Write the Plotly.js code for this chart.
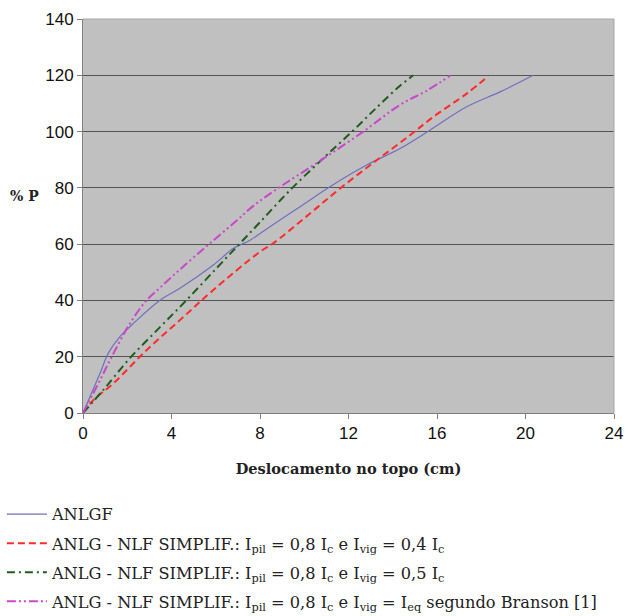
<!DOCTYPE html>
<html><head><meta charset="utf-8">
<script src="https://cdn.plot.ly/plotly-3.0.1.min.js"></script>
<style>body{margin:0;background:#fff}#chart{width:627px;height:616px}</style>
</head><body><div id="chart"></div>
<script>
// ANLGF (solid blue)
const anlgfX = [0, 0.77, 1.14, 1.67, 2.27, 3.48, 4.38, 5.89, 6.8, 7.55, 8.45, 9.81, 11.16, 12.82, 14.33, 15.68, 17.34, 18.85, 20.35];
const anlgfY = [0, 14.1, 21.2, 27.1, 31.8, 40.1, 44.3, 52.6, 58.5, 61.4, 66.2, 73.3, 80.4, 88.1, 94, 100.5, 108.8, 114.1, 120];
// Ipil=0.8Ic, Ivig=0.4Ic (red dashed)
const s04X = [0, 0.47, 1.37, 2.88, 4.38, 5.89, 8.0, 8.6, 10.26, 11.62, 13.27, 14.78, 15.83, 17.34, 18.32];
const s04Y = [0, 4.6, 10.5, 22.4, 33, 43.7, 57.3, 60.3, 70.9, 79.8, 89.8, 98.7, 105.2, 113.5, 119.7];
// Ipil=0.8Ic, Ivig=0.5Ic (green dash-dot)
const s05X = [0, 0.92, 2.12, 3.48, 4.69, 6.04, 7.1, 8.0, 9.36, 10.86, 12.07, 13.27, 14.33, 14.93];
const s05Y = [0, 8.2, 19.5, 30.5, 40.2, 51.5, 60.3, 67.8, 79.2, 90.5, 99.3, 108.5, 116.3, 120];
// Ipil=0.8Ic, Ivig=Ieq Branson (magenta dash-dot-dot)
const brX = [0, 0.77, 1.3, 2.12, 2.88, 3.48, 4.38, 5.59, 6.8, 7.7, 8.9, 10.56, 12.67, 14.33, 15.53, 16.62];
const brY = [0, 11.7, 20, 31.8, 40.1, 44.5, 51, 59.3, 67.4, 73.6, 80.3, 88.8, 100, 109.5, 114.5, 120];

const names = [
  'ANLGF',
  'ANLG - NLF SIMPLIF.: I<sub>pil</sub> = 0,8 I<sub>c</sub> e I<sub>vig</sub> = 0,4 I<sub>c</sub>',
  'ANLG - NLF SIMPLIF.: I<sub>pil</sub> = 0,8 I<sub>c</sub> e I<sub>vig</sub> = 0,5 I<sub>c</sub>',
  'ANLG - NLF SIMPLIF.: I<sub>pil</sub> = 0,8 I<sub>c</sub> e I<sub>vig</sub> = I<sub>eq</sub> segundo Branson [1]'
];
const xTicks = [0, 4, 8, 12, 16, 20, 24];
const yTicks = [0, 20, 40, 60, 80, 100, 120, 140];

const serif = 'DejaVu Serif';
const traces = [
  {x: anlgfX, y: anlgfY, name: names[0], legendgroup: 'a', mode: 'lines', line: {color: '#6f6fbf', width: 1.2, shape: 'spline'}},
  {x: s04X, y: s04Y, name: names[1], legendgroup: 'b', mode: 'lines', line: {color: '#ff2a2a', width: 2, dash: '7px,4px', shape: 'spline'}},
  {x: s05X, y: s05Y, name: names[2], legendgroup: 'c', mode: 'lines', line: {color: '#1f5c1f', width: 2, dash: '8px,4px,2px,4px', shape: 'spline'}},
  {x: brX, y: brY, name: names[3], legendgroup: 'd', mode: 'lines', line: {color: '#c848c8', width: 2, dash: '9px,3px,2px,3px,2px,3px', shape: 'spline'}}
];

const layout = {
  width: 627, height: 616,
  margin: {l: 83, r: 13, t: 19, b: 203, autoexpand: false},
  paper_bgcolor: '#ffffff',
  plot_bgcolor: '#c0c0c0',
  showlegend: true,
  legend: {
    xref: 'container', yref: 'container', x: 0.003, y: 0.193, xanchor: 'left', yanchor: 'top',
    font: {family: serif, size: 16.2, color: '#222'},
    bgcolor: 'rgba(0,0,0,0)', itemwidth: 40, tracegroupgap: 5
  },
  xaxis: {
    range: [0, 24], tickvals: xTicks, ticktext: xTicks.map(String),
    showgrid: false, zeroline: false,
    showline: true, linecolor: '#808080', linewidth: 1,
    ticks: 'outside', ticklen: 5, tickcolor: '#808080',
    tickfont: {family: 'Liberation Sans, Arial, sans-serif', size: 17, color: '#111'},
    title: {text: '<b>Deslocamento no topo (cm)</b>', font: {family: serif, size: 14.6, color: '#222'}, standoff: 21}
  },
  yaxis: {
    range: [0, 140], tickvals: yTicks, ticktext: yTicks.map(String),
    showgrid: true, gridcolor: '#555555', gridwidth: 1, zeroline: false,
    showline: true, linecolor: '#808080', linewidth: 1,
    ticks: 'outside', ticklen: 5, tickcolor: '#808080',
    tickfont: {family: 'Liberation Sans, Arial, sans-serif', size: 17, color: '#111'}
  },
  shapes: [
    {type: 'line', xref: 'paper', yref: 'paper', x0: 0, x1: 1, y0: 1, y1: 1, line: {color: '#a8a8a8', width: 1}},
    {type: 'line', xref: 'paper', yref: 'paper', x0: 1, x1: 1, y0: 0, y1: 1, line: {color: '#a8a8a8', width: 1}}
  ],
  annotations: [
    {text: '<b>% P</b>', xref: 'paper', yref: 'paper', x: -0.11, y: 0.552, xanchor: 'center', yanchor: 'middle', showarrow: false,
     font: {family: serif, size: 14, color: '#222'}}
  ]
};
Plotly.newPlot('chart', traces, layout, {displayModeBar: false, staticPlot: true});
</script>
</body></html>
